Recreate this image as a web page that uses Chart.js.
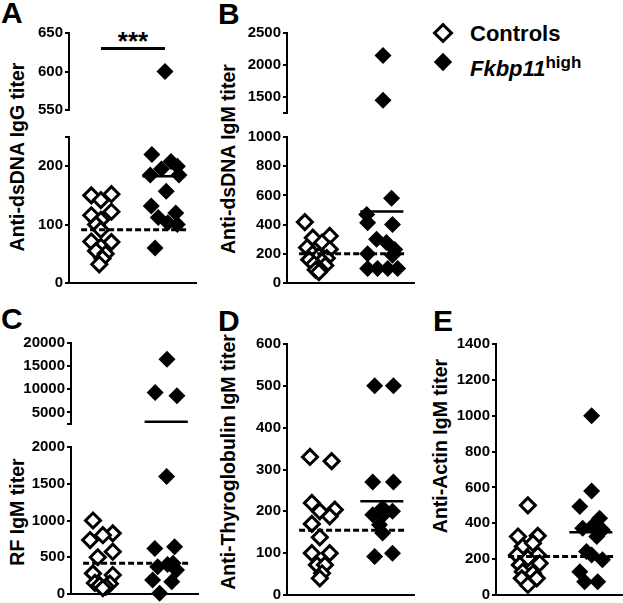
<!DOCTYPE html>
<html>
<head>
<meta charset="utf-8">
<script src="https://cdn.jsdelivr.net/npm/chart.js@4.4.1/dist/chart.umd.min.js"></script>
<style>
  body { margin: 0; background: #fff; }
  #fig { position: relative; width: 623px; height: 603px; overflow: hidden;
         font-family: "Liberation Sans", Arial, sans-serif; font-weight: bold; color: #000; }
  #fig canvas { position: absolute; }
  .letter { position: absolute; font-size: 30px; line-height: 30px; }
  .ytitle { position: absolute; font-size: 19.5px; line-height: 20px; white-space: nowrap;
            transform: translate(-50%, -50%) rotate(-90deg); }
  .leg { position: absolute; font-size: 22px; line-height: 22px; white-space: nowrap; }
  .dia { position: absolute; box-sizing: border-box; transform: translate(-50%, -50%) rotate(45deg); }
  .stars { position: absolute; font-size: 26px; line-height: 26px; transform: translateX(-50%); }
</style>
</head>
<body>
<div id="fig">
  <div class="letter" style="left:1px;top:-2px">A</div>
  <div class="letter" style="left:218px;top:-1px">B</div>
  <div class="letter" style="left:1px;top:304px">C</div>
  <div class="letter" style="left:218px;top:306px">D</div>
  <div class="letter" style="left:433px;top:306px">E</div>

  <div class="ytitle" style="left:17px;top:157px">Anti-dsDNA IgG titer</div>
  <div class="ytitle" style="left:228px;top:159px">Anti-dsDNA IgM titer</div>
  <div class="ytitle" style="left:17px;top:512px">RF IgM titer</div>
  <div class="ytitle" style="left:228px;top:462px">Anti-Thyroglobulin IgM titer</div>
  <div class="ytitle" style="left:440px;top:446px">Anti-Actin IgM titer</div>

  <div class="stars" style="left:133px;top:28px">***</div>

  <div class="dia" style="left:443px;top:33px;width:15px;height:15px;border:3px solid #000;background:#fff"></div>
  <div class="dia" style="left:443px;top:62px;width:13px;height:13px;background:#000"></div>
  <div class="leg" style="left:470px;top:23px">Controls</div>
  <div class="leg" style="left:470px;top:58px"><i>Fkbp11</i><span style="font-size:17px;position:relative;top:-8px">high</span></div>
</div>

<script>
// ---- data ----
// A: anti-dsDNA IgG
const aTicksHi = [550, 600, 650];
const aTicksLo = [0, 100, 200, 250];
const aCtrl = [150, 152, 142, 116, 122, 108, 100, 91, 71, 70, 62, 55, 50, 42, 32];
const aCtrlJit = [-0.3, 0.33, 0, -0.3, 0.33, 0, -0.15, 0, -0.3, 0.33, 0, -0.15, 0.15, 0.05, -0.05];
const aFk = [600, 220, 208, 200, 195, 185, 185, 157, 132, 120, 112, 103, 100, 60];
const aFkJit = [0, -0.4, 0.2, 0.4, -0.1, -0.45, 0.45, 0.05, -0.42, 0.35, -0.2, 0.1, 0.4, -0.3];
const aMed = [91, 183];
const aSig = 630;

// B: anti-dsDNA IgM
const bTicksHi = [1250, 1500, 2000, 2500];
const bTicksLo = [0, 200, 400, 600, 800, 1000];
const bCtrl = [417, 322, 310, 277, 243, 231, 200, 186, 170, 160, 150, 130, 120, 100, 90, 75];
const bCtrlJit = [-0.44, 0.34, -0.19, 0.1, -0.37, 0.34, -0.2, 0, 0.25, -0.3, 0.1, -0.15, 0.2, 0, -0.1, 0];
const bFk = [2150, 1450, 580, 470, 413, 400, 300, 277, 230, 200, 190, 100, 100, 100, 100];
const bFkJit = [0, 0, 0.28, -0.5, -0.47, 0.31, -0.19, 0.12, 0.38, -0.47, 0.31, -0.47, -0.16, 0.16, 0.47];
const bMed = [200, 490];

// C: RF IgM
const cTicksHi = [2500, 5000, 10000, 15000, 20000];
const cTicksLo = [0, 500, 1000, 1500, 2000];
const cCtrl = [1000, 825, 800, 734, 575, 500, 280, 258, 150, 140, 120, 100, 80];
const cCtrlJit = [-0.31, 0.31, 0, -0.4, 0.31, -0.16, -0.31, 0.31, -0.25, 0.22, -0.1, 0.1, 0];
const cFk = [16500, 9300, 8600, 1600, 643, 620, 420, 400, 371, 326, 190, 167, 10];
const cFkJit = [0, -0.37, 0.31, 0, 0.25, -0.37, 0.2, 0.03, -0.28, 0.31, -0.44, 0.16, -0.22];
const cMed = [420, 3000];

// D: anti-thyroglobulin IgM
const dTicks = [0, 100, 200, 300, 400, 500, 600];
const dCtrl = [330, 320, 220, 204, 200, 188, 170, 138, 100, 100, 72, 72, 52, 40];
const dCtrlJit = [-0.28, 0.4, -0.22, 0.5, 0.03, 0.34, -0.22, 0.03, -0.22, 0.34, -0.06, 0.19, 0.1, 0.03];
const dFk = [500, 500, 270, 270, 208, 200, 192, 190, 168, 148, 92, 100];
const dFkJit = [-0.25, 0.34, -0.31, 0.34, 0, 0.31, -0.31, 0, -0.1, 0, -0.25, 0.31];
const dMed = [155, 224];

// E: anti-actin IgM
const eTicks = [0, 200, 400, 600, 800, 1000, 1200, 1400];
const eCtrl = [500, 326, 330, 270, 289, 223, 223, 205, 168, 177, 130, 121, 93, 93, 56];
const eCtrlJit = [0, -0.31, 0.31, -0.16, 0.16, -0.34, 0.31, 0, -0.25, 0.37, -0.16, 0.16, -0.19, 0.28, 0];
const eFk = [1000, 580, 493, 428, 372, 385, 363, 326, 242, 223, 196, 130, 74, 74];
const eFkJit = [0, 0, -0.37, 0.25, -0.28, 0.03, 0.34, 0.16, -0.16, 0, 0.34, -0.37, -0.22, 0.19];
const eMed = [215, 350];

// ---- layout / style ----
const AXIS_W = 60, PAD = 14, UNIT = 32, X_MAX = 4;
const CTRL_X = 1, FK_X = 3;
const DASH_SPAN = [0.38, 3.7], SOLID_SPAN = [2.3, 3.65], SIG_SPAN = [1, 3];

Chart.defaults.font.family = '"Liberation Sans", Arial, sans-serif';
Chart.defaults.font.weight = 'bold';
Chart.defaults.font.size = 15;
Chart.defaults.color = '#000';

const fig = document.getElementById('fig');

function pts(vals, jit, cx, lo, hi) {
  return vals.map((v, i) => ({ x: cx + jit[i], y: v })).filter(p => p.y >= lo && p.y <= hi);
}
function hline(y, span, lo, hi) {
  return (y >= lo && y <= hi) ? [{ x: span[0], y }, { x: span[1], y }] : [];
}

function segment(s) {
  const cv = document.createElement('canvas');
  cv.width = AXIS_W + X_MAX * UNIT + 10;
  cv.height = s.bottom - s.top + 2 * PAD;
  cv.style.left = (s.axisX - AXIS_W) + 'px';
  cv.style.top = (s.top - PAD) + 'px';
  fig.appendChild(cv);

  const lo = s.min, hi = s.max;
  const datasets = [
    { data: hline(s.med[0], DASH_SPAN, lo, hi), showLine: true, pointRadius: 0,
      borderColor: '#000', borderWidth: 3, borderDash: [6, 3], clip: false },
    { data: hline(s.med[1], SOLID_SPAN, lo, hi), showLine: true, pointRadius: 0,
      borderColor: '#000', borderWidth: 2.5, clip: false },
    { data: pts(s.fk, s.fkJit, FK_X, lo, hi), pointStyle: 'rectRot', pointRadius: 8.5,
      backgroundColor: '#000', borderColor: '#000', borderWidth: 0, clip: false },
    { data: pts(s.ctrl, s.ctrlJit, CTRL_X, lo, hi), pointStyle: 'rectRot', pointRadius: 7.5,
      backgroundColor: '#fff', borderColor: '#000', borderWidth: 3, clip: false }
  ];
  if (s.sig !== undefined) {
    datasets.unshift({ data: hline(s.sig, SIG_SPAN, lo, hi), showLine: true, pointRadius: 0,
      borderColor: '#000', borderWidth: 3, clip: false });
  }

  new Chart(cv, {
    type: 'scatter',
    data: { datasets },
    options: {
      responsive: false,
      animation: false,
      layout: { padding: { top: PAD, bottom: PAD, left: 0, right: 10 } },
      plugins: { legend: { display: false }, tooltip: { enabled: false } },
      scales: {
        x: {
          type: 'linear', min: 0, max: X_MAX, display: s.showX,
          ticks: { display: false },
          grid: { display: false },
          border: { display: true, color: '#000', width: 2 },
          afterFit: sc => { sc.height = 0; }
        },
        y: {
          type: 'linear', min: lo, max: hi,
          afterBuildTicks: sc => { sc.ticks = s.ticks.map(v => ({ value: v })); },
          ticks: {
            autoSkip: false, padding: 2,
            callback: v => (s.blank.includes(v) ? '' : String(v))
          },
          grid: { display: true, drawOnChartArea: false, drawTicks: true, tickLength: 4,
                  color: '#000', lineWidth: 2 },
          border: { display: true, color: '#000', width: 2 },
          afterFit: sc => { sc.width = AXIS_W; }
        }
      }
    }
  });
}

// A
const aData = { ctrl: aCtrl, ctrlJit: aCtrlJit, fk: aFk, fkJit: aFkJit, med: aMed };
segment({ ...aData, axisX: 69, top: 33, bottom: 110, min: 550, max: 650, ticks: aTicksHi, blank: [], showX: false, sig: aSig });
segment({ ...aData, axisX: 69, top: 137, bottom: 283, min: 0, max: 250, ticks: aTicksLo, blank: [250], showX: true });
// B
const bData = { ctrl: bCtrl, ctrlJit: bCtrlJit, fk: bFk, fkJit: bFkJit, med: bMed };
segment({ ...bData, axisX: 287, top: 33, bottom: 113, min: 1250, max: 2500, ticks: bTicksHi, blank: [1250], showX: false });
segment({ ...bData, axisX: 287, top: 137, bottom: 283, min: 0, max: 1000, ticks: bTicksLo, blank: [], showX: true });
// C
const cData = { ctrl: cCtrl, ctrlJit: cCtrlJit, fk: cFk, fkJit: cFkJit, med: cMed };
segment({ ...cData, axisX: 71, top: 343, bottom: 424, min: 2500, max: 20000, ticks: cTicksHi, blank: [2500], showX: false });
segment({ ...cData, axisX: 71, top: 447, bottom: 594, min: 0, max: 2000, ticks: cTicksLo, blank: [], showX: true });
// D
segment({ ctrl: dCtrl, ctrlJit: dCtrlJit, fk: dFk, fkJit: dFkJit, med: dMed,
          axisX: 287, top: 344, bottom: 595, min: 0, max: 600, ticks: dTicks, blank: [], showX: true });
// E
segment({ ctrl: eCtrl, ctrlJit: eCtrlJit, fk: eFk, fkJit: eFkJit, med: eMed,
          axisX: 496, top: 344, bottom: 595, min: 0, max: 1400, ticks: eTicks, blank: [], showX: true });
</script>
</body>
</html>
